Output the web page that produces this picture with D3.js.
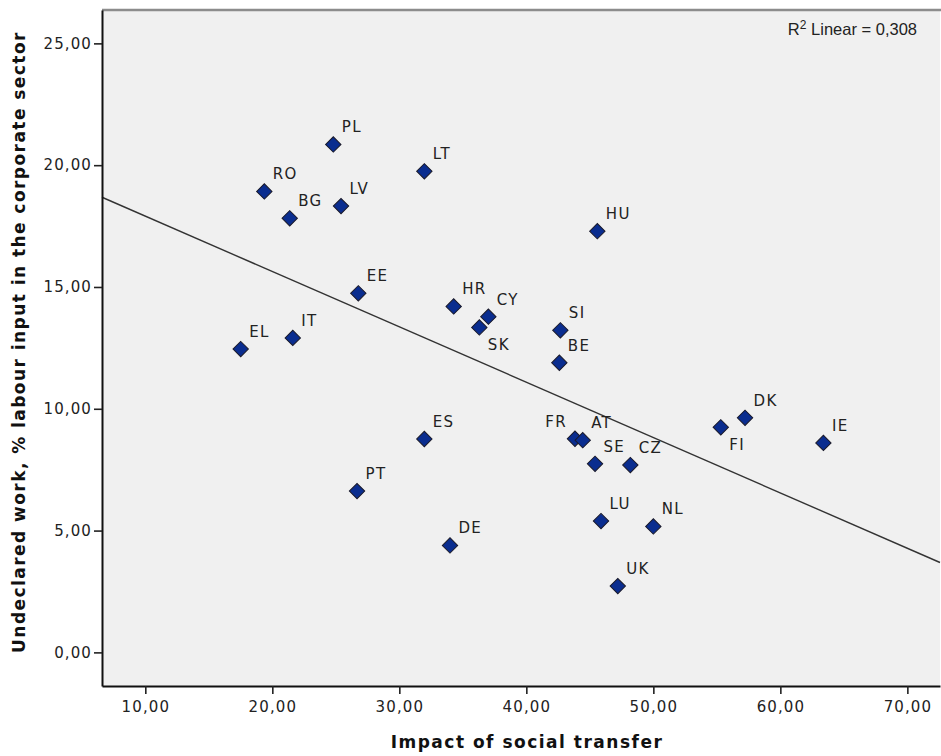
<!DOCTYPE html>
<html>
<head>
<meta charset="utf-8">
<script src="https://cdn.jsdelivr.net/npm/d3@7"></script>
<style>
  html, body { margin: 0; padding: 0; background: #ffffff; }
  svg { display: block; }
</style>
</head>
<body>
<svg id="chart" width="941" height="756"></svg>
<script>
// ---- data ----
const countries = ["PL","RO","BG","LV","LT","HU","EE","HR","CY","SK","SI","BE","EL","IT",
                   "DK","FI","IE","ES","FR","AT","SE","CZ","PT","LU","NL","DE","UK"];
const socialTransfer = [24.80,19.37,21.37,25.41,31.97,45.59,26.77,34.28,37.01,36.30,42.68,42.60,17.51,21.61,
                        57.22,55.31,63.39,31.97,43.83,44.44,45.41,48.19,26.67,45.88,50.00,33.99,47.20];
const undeclaredWork = [20.85,18.92,17.82,18.32,19.75,17.29,14.74,14.20,13.78,13.34,13.22,11.89,12.45,12.91,
                        9.63,9.24,8.60,8.76,8.77,8.71,7.74,7.69,6.62,5.39,5.17,4.39,2.72];
const xTicks = [10,20,30,40,50,60,70];
const yTicks = [0,5,10,15,20,25];
const xTitle = "Impact of social transfer";
const yTitle = "Undeclared work, % labour input in the corporate sector";
const r2Label = "0,308";
const labelPlacement = { SK: "below", FI: "below", FR: "left" };

// ---- layout ----
const svg = d3.select("#chart");
const L = 102, R = 940, T = 10, B = 686;

const x = d3.scaleLinear().domain([6.59, 72.57]).range([L, R]);
const y = d3.scaleLinear().domain([-1.38, 26.37]).range([B, T]);
const fmt = v => d3.format(".2f")(v).replace(".", ",");

// plot background
svg.append("rect").attr("x", L).attr("y", T).attr("width", R - L).attr("height", B - T)
  .attr("fill", "#f0f0f0");
svg.append("line").attr("x1", L).attr("x2", R + 1).attr("y1", T).attr("y2", T)
  .attr("stroke", "#8c8c8c").attr("stroke-width", 2.5);

// regression line (OLS computed from data)
const n = countries.length;
const mx = d3.mean(socialTransfer), my = d3.mean(undeclaredWork);
let sxy = 0, sxx = 0;
for (let i = 0; i < n; i++) {
  sxy += (socialTransfer[i] - mx) * (undeclaredWork[i] - my);
  sxx += (socialTransfer[i] - mx) ** 2;
}
const slope = sxy / sxx, intercept = my - slope * mx;
const [x0, x1] = x.domain();
svg.append("line")
  .attr("x1", x(x0)).attr("y1", y(intercept + slope * x0))
  .attr("x2", x(x1)).attr("y2", y(intercept + slope * x1))
  .attr("stroke", "#333").attr("stroke-width", 1.4);

// axes
const xAxis = svg.append("g").attr("transform", `translate(0,${B})`)
  .call(d3.axisBottom(x).tickValues(xTicks).tickFormat(fmt).tickSize(8).tickSizeOuter(0));
const yAxis = svg.append("g").attr("transform", `translate(${L},0)`)
  .call(d3.axisLeft(y).tickValues(yTicks).tickFormat(fmt).tickSize(8).tickSizeOuter(0));
[xAxis, yAxis].forEach(g => {
  g.select(".domain").attr("stroke", "#111").attr("stroke-width", 2);
  g.selectAll(".tick line").attr("stroke", "#222").attr("stroke-width", 1.6);
  g.selectAll(".tick text").attr("fill", "#222")
    .style("font-family", "'DejaVu Sans', Verdana, sans-serif")
    .style("font-size", "15px").style("letter-spacing", "1.1px");
});
xAxis.selectAll(".tick text").attr("dy", "1.0em");
yAxis.selectAll(".tick text").attr("x", -10);

// axis titles
svg.append("text").attr("x", 527).attr("y", 748).attr("text-anchor", "middle")
  .style("font-family", "'DejaVu Sans', Verdana, sans-serif").style("font-weight", "bold")
  .style("font-size", "17px").style("letter-spacing", "1.5px").attr("fill", "#111")
  .text(xTitle);
svg.append("text").attr("transform", `translate(25,${342}) rotate(-90)`).attr("text-anchor", "middle")
  .style("font-family", "'DejaVu Sans', Verdana, sans-serif").style("font-weight", "bold")
  .style("font-size", "17px").style("letter-spacing", "1.45px").attr("fill", "#111")
  .text(yTitle);

// R² annotation
const r2 = svg.append("text").attr("x", 917).attr("y", 35).attr("text-anchor", "end")
  .style("font-family", "'Liberation Sans', Arial, sans-serif").style("font-size", "16.5px")
  .attr("fill", "#222");
r2.append("tspan").text("R");
r2.append("tspan").attr("dy", -6).style("font-size", "12px").text("2");
r2.append("tspan").attr("dy", 6).text(" Linear = " + r2Label);

// points
const data = countries.map((c, i) => ({ c, vx: socialTransfer[i], vy: undeclaredWork[i] }));
const diamond = d3.symbol().type(d3.symbolSquare).size(118);
svg.append("g").selectAll("path").data(data).join("path")
  .attr("d", diamond)
  .attr("transform", d => `translate(${x(d.vx)},${y(d.vy)}) rotate(45)`)
  .attr("fill", "#0a2d8f").attr("stroke", "#1a1a2a").attr("stroke-width", 1);

// point labels
svg.append("g").selectAll("text").data(data).join("text")
  .attr("x", d => x(d.vx) + (labelPlacement[d.c] === "left" ? -8 : 8.5))
  .attr("y", d => y(d.vy) + (labelPlacement[d.c] === "below" ? 22.5 : -12))
  .attr("text-anchor", d => labelPlacement[d.c] === "left" ? "end" : "start")
  .style("font-family", "'DejaVu Sans', Verdana, sans-serif").style("font-size", "15px")
  .style("letter-spacing", "1.3px").attr("fill", "#222")
  .text(d => d.c);
</script>
</body>
</html>
